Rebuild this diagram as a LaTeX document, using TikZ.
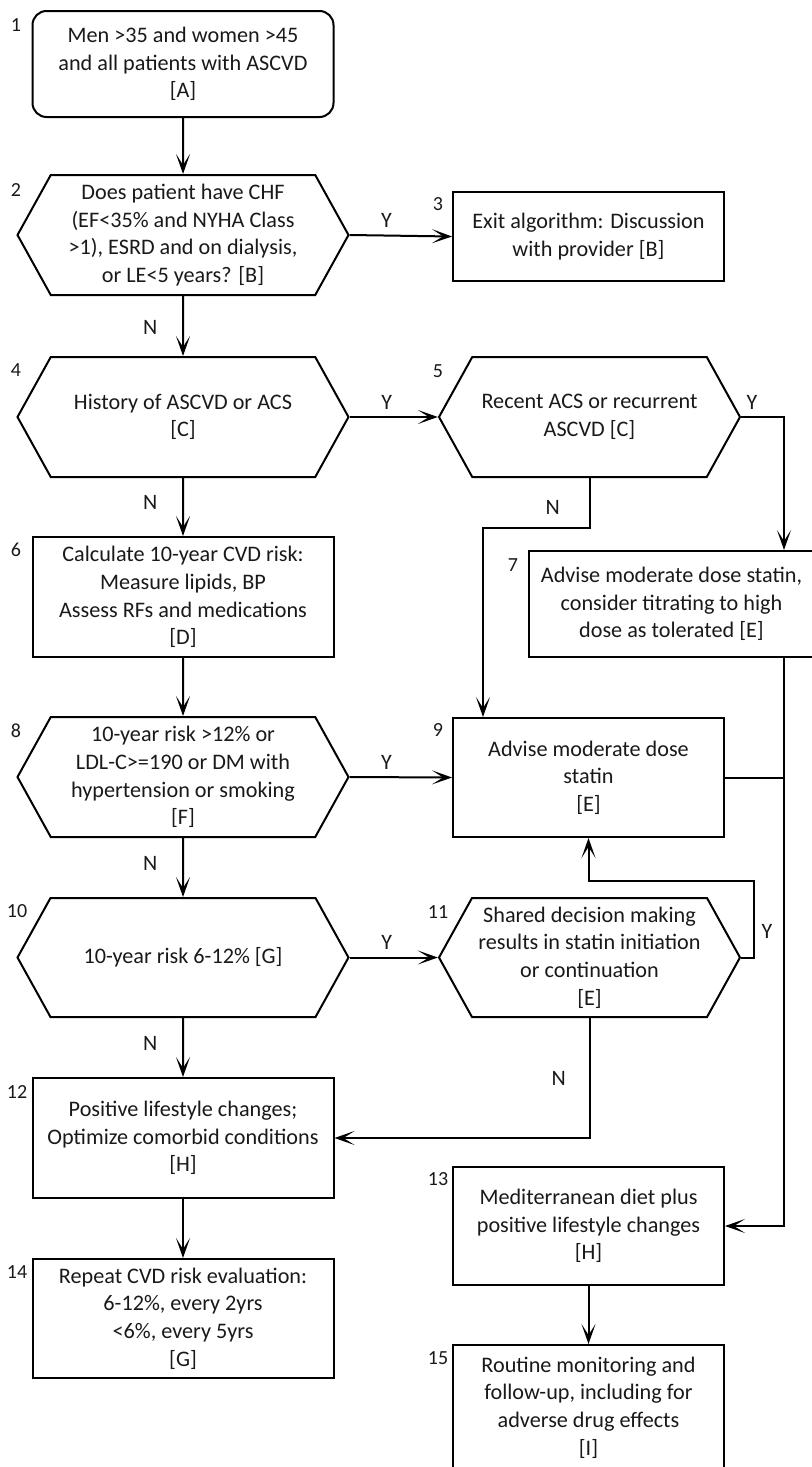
\documentclass[tikz,border=0pt]{standalone}
\usepackage{fontspec}
\setmainfont{Carlito}
\usepackage{tikz}
\usetikzlibrary{arrows.meta,calc,positioning,shapes.symbols}

\begin{document}
\begin{tikzpicture}[x=0.5pt,y=-0.5pt,font=\fontsize{11.1}{13.85}\selectfont,
  every node/.style={text=black!90},
  box/.style={draw=black,line width=1pt,align=center,inner sep=0pt},
  decision/.style={signal,signal to=east and west,signal pointer angle=122,draw=black,line width=1pt,align=center,inner sep=0pt,minimum width=165.5pt,minimum height=60pt},
  num/.style={font=\fontsize{10}{12}\selectfont},
  yn/.style={font=\fontsize{11}{13}\selectfont},
  arr/.style={line width=1pt,-{Stealth[length=10pt,width=7pt,inset=5.5pt]}},
  link/.style={line width=1pt}]
\useasboundingbox (0,0) rectangle (812,1467);

% left column
\node[box,rounded corners=7pt,minimum width=150.5pt,minimum height=53pt] (b1) at (183,64) {Men >35 and women >45\\and all patients with ASCVD\\{[A]}};
\node[decision] (d2) at (183,235) {Does patient have CHF\\(EF<35\% and NYHA Class\\>1), ESRD and on dialysis,\\or LE<5 years? [B]};
\node[decision] (d4) at (183,417) {History of ASCVD  or ACS\\{[C]}};
\node[box,minimum width=150.5pt,minimum height=60pt] (b6) at (183,597) {Calculate  10-year CVD risk:\\Measure lipids, BP\\Assess RFs and medications\\{[D]}};
\node[decision] (d8) at (183,777) {10-year risk >12\% or\\LDL-C>=190  or DM with\\hypertension or smoking\\{[F]}};
\node[decision,minimum height=59.5pt] (d10) at (183,957.5) {10-year risk 6-12\% [G]};
\node[box,minimum width=150.5pt,minimum height=60pt] (b12) at (183,1138) {Positive lifestyle changes;\\Optimize comorbid conditions\\{[H]}};
\node[box,minimum width=150.5pt,minimum height=59.5pt] (b14) at (183,1318.5) {Repeat CVD risk evaluation:\\6-12\%, every 2yrs\\<6\%,  every 5yrs\\{[G]}};

% right column
\node[box,minimum width=135.5pt,minimum height=44.5pt] (b3) at (588.5,236.5) {Exit algorithm: Discussion\\with provider [B]};
\node[decision,minimum width=150.5pt] (d5) at (589.5,417) {Recent ACS or recurrent\\ASCVD [C]};
\node[box,minimum width=142.5pt,minimum height=53pt] (b7) at (671.5,604) {Advise moderate dose statin,\\consider titrating to high\\dose as tolerated [E]};
\node[box,minimum width=135.5pt,minimum height=59.5pt] (b9) at (588.5,777.5) {Advise moderate dose\\statin\\{[E]}};
\node[decision,minimum width=150.5pt,minimum height=59.5pt] (d11) at (589.5,957.5) {Shared decision making\\results in statin initiation\\or continuation\\{[E]}};
\node[box,minimum width=135.5pt,minimum height=59pt] (b13) at (588.5,1226) {Mediterranean diet plus\\positive lifestyle changes\\{[H]}};
\node[box,minimum width=135.5pt,minimum height=62.5pt] (b15) at (588.5,1407.5) {Routine monitoring and\\follow-up, including for\\adverse drug effects\\{[I]}};

% step numbers
\node[num] at (16,25) {1};
\node[num] at (16,190) {2};
\node[num] at (438,204) {3};
\node[num] at (16,370) {4};
\node[num] at (438,371) {5};
\node[num] at (16,550) {6};
\node[num] at (513,565) {7};
\node[num] at (16,731) {8};
\node[num] at (438,730) {9};
\node[num] at (17,911) {10};
\node[num] at (438,912) {11};
\node[num] at (17,1092) {12};
\node[num] at (438,1179) {13};
\node[num] at (17,1272) {14};
\node[num] at (438,1358) {15};

\coordinate (r1) at (784,417);
\coordinate (k5) at (483,528);
\coordinate (k11) at (754,881);

\draw[arr] (b1) -- (d2);
\draw[arr] (d2.east) -- node[yn,above,pos=0.36] {Y} (b3.west);
\draw[arr] (d2) -- node[yn,left=9pt,pos=0.53] {N} (d4);
\draw[arr] (d4.east) -- node[yn,above,pos=0.42] {Y} (d5.west);
\draw[arr] (d4) -- node[yn,left=9pt,pos=0.42] {N} (b6);
\draw[arr] (d5.east) -- node[yn,above,pos=0.25] {Y} (r1) -- (r1 |- b7.north);
\draw[arr] (d5.south) |- node[yn,left=11pt,pos=0.29] {N} (k5) -- (k5 |- b9.north);
\draw[arr] (b6) -- (d8);
\draw[arr] (d8.east) -- node[yn,above,pos=0.36] {Y} (b9.west);
\draw[arr] (d8) -- node[yn,left=9pt,pos=0.43] {N} (d10);
\draw[arr] (d10.east) -- node[yn,above,pos=0.42] {Y} (d11.west);
\draw[arr] (d10) -- node[yn,left=9pt,pos=0.43] {N} (b12);
\draw[arr] (d11.east) -| node[yn,right,pos=0.67] {Y} (k11) -| (b9.south);
\draw[arr] (d11.south) |- node[yn,left=8pt,pos=0.25] {N} (b12.east);
\draw[link] (b9.east) -- (r1 |- b9.east);
\draw[arr] (r1 |- b7.south) -- (r1 |- b13.east) -- (b13.east);
\draw[arr] (b12) -- (b14);
\draw[arr] (b13) -- (b15);
\end{tikzpicture}
\end{document}
